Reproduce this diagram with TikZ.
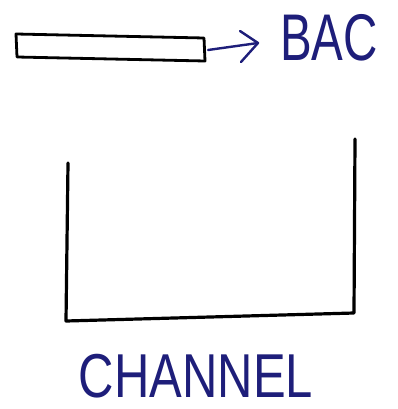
\documentclass[tikz,border=0pt]{standalone}
\usepackage{fontspec}
\setmainfont{Liberation Sans}
\definecolor{ink}{HTML}{1E1E7A}
\begin{document}
\begin{tikzpicture}[x=1pt,y=-1pt,
  pen/.style={line width=3.2pt,black,line join=round,line cap=round},
  hand/.style={text=ink,inner sep=0pt,anchor=center}]
\useasboundingbox (0,0) rectangle (397,409);
\fill[white] (0,0) rectangle (397,409);
% bar
\coordinate (r1) at (16,34);
\coordinate (r2) at (204,38);
\coordinate (r3) at (205,61);
\coordinate (r4) at (17,57);
\draw[pen,line width=2.8pt] (r1) -- (r2) -- (r3) -- (r4) -- cycle;
\coordinate (a0) at (208,50);
\node[hand,font=\fontsize{66}{66}\selectfont,xscale=0.72] (bac) at (329,38) {BAC};
\coordinate (tip) at (258,43);
\draw[line width=2.4pt,ink,line cap=round] (a0) -- (tip);
\draw[line width=2.4pt,ink,line cap=round,line join=round] (240,31) -- (tip) -- (241,62);
% channel
\coordinate (c1) at (68,163);
\coordinate (c2) at (66,321);
\coordinate (c3) at (354,313);
\coordinate (c4) at (355,139);
\draw[pen] (c1) -- (c2) -- (c3) -- (c4);
\node[hand,font=\fontsize{62}{62}\selectfont,xscale=0.79] (lbl) at (196,376) {CHANNEL};
\end{tikzpicture}
\end{document}
